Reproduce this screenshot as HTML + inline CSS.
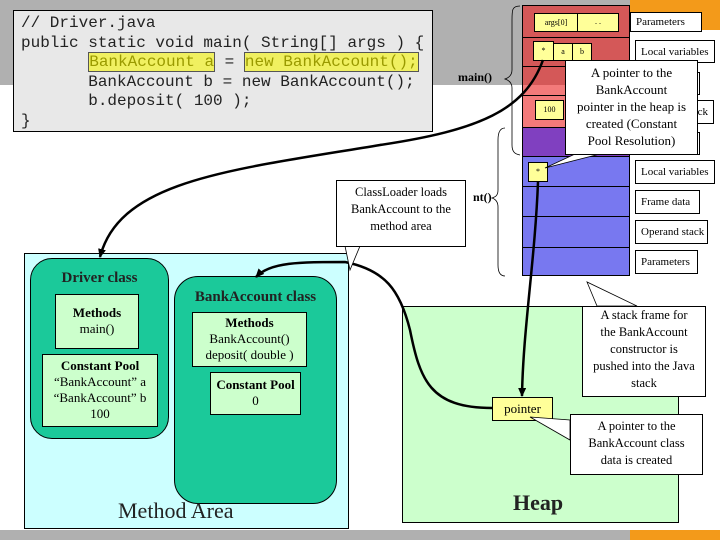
<!DOCTYPE html>
<html><head><meta charset="utf-8"><style>
*{margin:0;padding:0;box-sizing:border-box}
body{width:720px;height:540px;position:relative;overflow:hidden;background:#fff;font-family:"Liberation Serif",serif}
.a{position:absolute}
.lbl{position:absolute;background:#fff;border:1px solid #000;font-size:11px;padding:3px 5px;white-space:nowrap}
.cell{position:absolute;background:#ffff99;border:1px solid #000;font-size:8px;text-align:center}
.code{font-family:"Liberation Mono",monospace;font-size:16px;line-height:19.5px;white-space:pre;color:#222}
.hl{background:#f0f060;border:1px solid #555;color:#9a9a00}
.box{position:absolute;background:#ccffcc;border:1px solid #000;text-align:center;font-size:13px;line-height:16px}
.call{position:absolute;background:#fff;border:1px solid #000;text-align:center;font-size:13px;line-height:17px}
</style></head><body>
<div class="a" style="left:0;top:0;width:630px;height:85px;background:#b0b0b0"></div>
<div class="a" style="left:630px;top:0;width:90px;height:30px;background:#f39a1a"></div>
<div class="a" style="left:0;top:530px;width:630px;height:10px;background:#b0b0b0"></div>
<div class="a" style="left:630px;top:530px;width:90px;height:10px;background:#f39a1a"></div>

<div class="a code" style="left:13px;top:10px;width:420px;height:122px;background:#e8e8e8;border:1px solid #000;padding:3px 0 0 7px">// Driver.java
public static void main( String[] args ) {
       <span class="hl">BankAccount a</span> = <span class="hl">new BankAccount();</span>
       BankAccount b = new BankAccount();
       b.deposit( 100 );
}</div>

<!-- stack column -->
<div class="a" style="left:522px;top:5px;width:108px;height:80px;background:#d45858;border:1px solid #000;border-bottom:none"></div>
<div class="a" style="left:522px;top:85px;width:108px;height:42px;background:#f37a7a;border-left:1px solid #000;border-right:1px solid #000"></div>
<div class="a" style="left:522px;top:127px;width:108px;height:29px;background:#8040c0;border:1px solid #000;border-bottom:none"></div>
<div class="a" style="left:522px;top:156px;width:108px;height:120px;background:#7878f0;border:1px solid #000"></div>
<div class="a" style="left:522px;top:37px;width:108px;height:1px;background:#000"></div>
<div class="a" style="left:522px;top:66px;width:108px;height:1px;background:#000"></div>
<div class="a" style="left:522px;top:95px;width:108px;height:1px;background:#000"></div>
<div class="a" style="left:522px;top:186px;width:108px;height:1px;background:#000"></div>
<div class="a" style="left:522px;top:216px;width:108px;height:1px;background:#000"></div>
<div class="a" style="left:522px;top:247px;width:108px;height:1px;background:#000"></div>
<div class="cell" style="left:534px;top:13px;width:44px;height:19px;line-height:17px">args[0]</div>
<div class="cell" style="left:577px;top:13px;width:42px;height:19px;line-height:15px">. .</div>
<div class="cell" style="left:553px;top:43px;width:20px;height:18px;line-height:16px">a</div>
<div class="cell" style="left:572px;top:43px;width:20px;height:18px;line-height:16px">b</div>
<div class="cell" style="left:533px;top:41px;width:21px;height:20px;line-height:18px">*</div>
<div class="cell" style="left:535px;top:100px;width:29px;height:20px;line-height:18px">100</div>
<div class="cell" style="left:528px;top:162px;width:20px;height:20px;line-height:18px">*</div>

<div class="lbl" style="left:630px;top:12px;width:72px;height:20px">Parameters</div>
<div class="lbl" style="left:635px;top:40px;width:80px;height:23px;padding-top:5px">Local variables</div>
<div class="lbl" style="left:640px;top:72px;width:60px;height:23px"></div>
<div class="lbl" style="left:640px;top:100px;width:74px;height:24px;padding-top:5px;text-align:right">ck</div>
<div class="lbl" style="left:640px;top:132px;width:60px;height:23px"></div>
<div class="lbl" style="left:635px;top:160px;width:80px;height:24px;padding-top:5px">Local variables</div>
<div class="lbl" style="left:635px;top:190px;width:65px;height:24px;padding-top:5px">Frame data</div>
<div class="lbl" style="left:635px;top:220px;width:73px;height:24px;padding-top:5px">Operand stack</div>
<div class="lbl" style="left:635px;top:250px;width:63px;height:24px;padding-top:5px">Parameters</div>

<div class="a" style="left:458px;top:70px;font-weight:bold;font-size:12px">main()</div>
<div class="a" style="left:473px;top:190px;font-weight:bold;font-size:12px">nt()</div>

<svg class="a" style="left:0;top:0" width="720" height="540">
<path d="M520,6 C512,6 512,10 512,20 L512,70 C512,76 508,78 505,79 C508,80 512,82 512,88 L512,145 C512,152 515,154 520,155" fill="none" stroke="#000" stroke-width="0.8"/>
<path d="M505,128 C500,128 498,132 498,140 L498,190 C498,196 495,197 492,198 C495,199 498,201 498,207 L498,265 C498,272 500,276 505,276" fill="none" stroke="#000" stroke-width="0.8"/>
</svg>

<!-- method area -->
<div class="a" style="left:24px;top:253px;width:325px;height:276px;background:#ccffff;border:1px solid #000"></div>
<div class="a" style="left:30px;top:258px;width:139px;height:181px;background:#1bc99a;border:1px solid #000;border-radius:22px"></div>
<div class="a" style="left:30px;top:270px;width:139px;text-align:center;font-weight:bold;font-size:15px;color:#222">Driver class</div>
<div class="box" style="left:55px;top:294px;width:84px;height:55px;padding-top:10px"><b>Methods</b><br>main()</div>
<div class="box" style="left:42px;top:354px;width:116px;height:73px;padding-top:3px"><b>Constant Pool</b><br>“BankAccount” a<br>“BankAccount” b<br>100</div>
<div class="a" style="left:174px;top:276px;width:163px;height:228px;background:#1bc99a;border:1px solid #000;border-radius:24px"></div>
<div class="a" style="left:174px;top:289px;width:163px;text-align:center;font-weight:bold;font-size:15px;color:#222">BankAccount class</div>
<div class="box" style="left:192px;top:312px;width:115px;height:55px;padding-top:2px"><b>Methods</b><br>BankAccount()<br>deposit( double )</div>
<div class="box" style="left:210px;top:372px;width:91px;height:43px;padding-top:4px"><b>Constant Pool</b><br>0</div>
<div class="a" style="left:118px;top:498px;font-size:22px;color:#222;line-height:26px">Method Area</div>

<!-- heap -->
<div class="a" style="left:402px;top:306px;width:277px;height:217px;background:#ccffcc;border:1px solid #000"></div>
<div class="a" style="left:513px;top:490px;font-size:22px;font-weight:bold;color:#222">Heap</div>
<div class="a" style="left:492px;top:397px;width:61px;height:24px;background:#ffff99;border:1px solid #000;font-size:13px;text-align:center;line-height:22px">pointer</div>

<svg class="a" style="left:0;top:0" width="720" height="540">
<defs><marker id="ar" markerUnits="userSpaceOnUse" markerWidth="9" markerHeight="8" refX="8" refY="4" orient="auto"><path d="M0,0 L9,4 L0,8 z" fill="#000"/></marker></defs>
<path d="M543,60 C525,110 480,130 380,145 C230,170 120,180 100,257" fill="none" stroke="#000" stroke-width="2.5" marker-end="url(#ar)"/>
<path d="M492,408 C430,408 420,380 410,330 C400,290 385,270 345,262 C300,262 270,262 256,277" fill="none" stroke="#000" stroke-width="2.5" marker-end="url(#ar)"/>
<path d="M538,182 C535,260 523,330 522,396" fill="none" stroke="#000" stroke-width="2.5" marker-end="url(#ar)"/>
<polygon points="345,246 360,246 350,270" fill="#fff" stroke="#000" stroke-width="0.8"/>
<polygon points="597,306 637,306 587,282" fill="#fff" stroke="#000" stroke-width="0.8"/>
<polygon points="570,420 570,440 530,417" fill="#fff" stroke="#000" stroke-width="0.8"/>
<polygon points="575,154 600,154 545,168" fill="#fff" stroke="#000" stroke-width="0.8"/>
</svg>
<div class="call" style="left:336px;top:180px;width:130px;height:67px;padding-top:3px;font-size:12.5px">ClassLoader loads<br>BankAccount to the<br>method area</div>
<div class="call" style="left:582px;top:306px;width:124px;height:91px;font-size:12.5px">A stack frame for<br>the BankAccount<br>constructor is<br>pushed into the Java<br>stack</div>
<div class="call" style="left:570px;top:414px;width:133px;height:61px;padding-top:3px;font-size:12.5px">A pointer to the<br>BankAccount class<br>data is created</div>
<div class="call" style="left:565px;top:60px;width:133px;height:95px;padding-top:3px">A pointer to the<br>BankAccount<br>pointer in the heap is<br>created (Constant<br>Pool Resolution)</div>
</body></html>
